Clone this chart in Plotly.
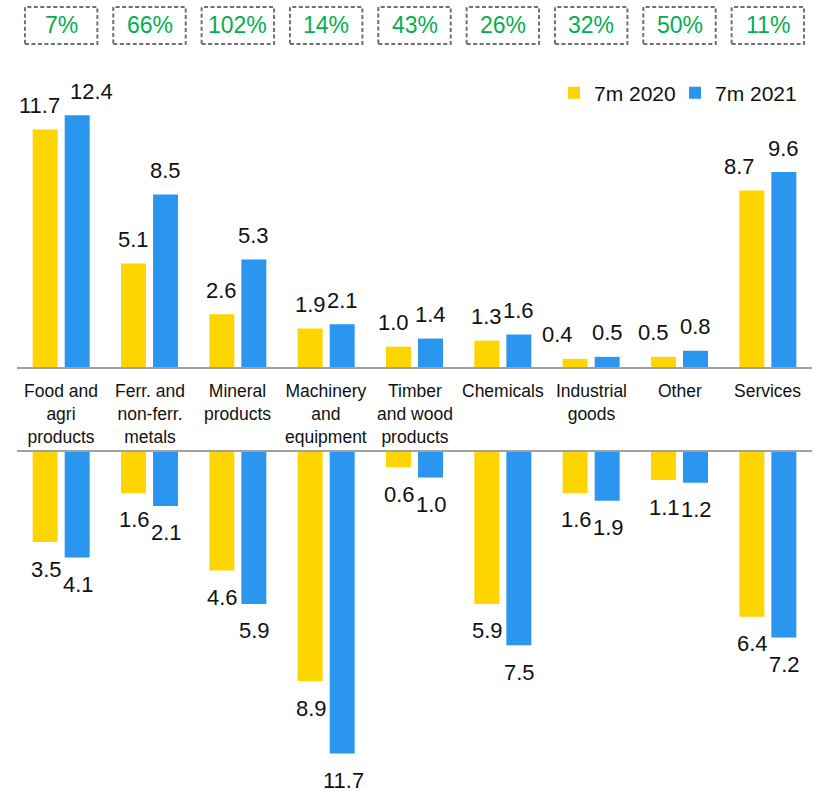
import plotly.graph_objects as go

# ---- data ----
categories = ["Food and<br>agri<br>products", "Ferr. and<br>non-ferr.<br>metals", "Mineral<br>products",
              "Machinery<br>and<br>equipment", "Timber<br>and wood<br>products", "Chemicals",
              "Industrial<br>goods", "Other", "Services"]
exports_2020 = [11.7, 5.1, 2.6, 1.9, 1.0, 1.3, 0.4, 0.5, 8.7]
exports_2021 = [12.4, 8.5, 5.3, 2.1, 1.4, 1.6, 0.5, 0.8, 9.6]
imports_2020 = [3.5, 1.6, 4.6, 8.9, 0.6, 5.9, 1.6, 1.1, 6.4]
imports_2021 = [4.1, 2.1, 5.9, 11.7, 1.0, 7.5, 1.9, 1.2, 7.2]
growth_labels = ["7%", "66%", "102%", "14%", "43%", "26%", "32%", "50%", "11%"]
series_names = ["7m 2020", "7m 2021"]

# ---- style ----
W, H = 819, 790
YELLOW = "#FFD500"
BLUE = "#2A96EF"
GREEN = "#00B050"
FONT = "Arial, Liberation Sans, sans-serif"
cat_ids = list(range(len(categories)))

# pixel geometry
x_left, x_right = 17, 812
base_up, base_low = 367, 451.7
px_per_up, px_per_low = 20.3, 25.8
# small horizontal nudges of upper value labels (px), per series
nudge_up_2020 = [-6, 0, 0, 0, -5, 0, -18, -10, -12]
nudge_up_2021 = [14, 0, 0, 0, 0, 0, 0, 0, 0]

fig = go.Figure()
fig.add_trace(go.Bar(x=cat_ids, y=exports_2020, name=series_names[0], marker_color=YELLOW,
                     xaxis="x", yaxis="y", legendgroup="a"))
fig.add_trace(go.Bar(x=cat_ids, y=exports_2021, name=series_names[1], marker_color=BLUE,
                     xaxis="x", yaxis="y", legendgroup="b"))
fig.add_trace(go.Bar(x=cat_ids, y=[-v for v in imports_2020], name=series_names[0], marker_color=YELLOW,
                     xaxis="x2", yaxis="y2", legendgroup="a", showlegend=False))
fig.add_trace(go.Bar(x=cat_ids, y=[-v for v in imports_2021], name=series_names[1], marker_color=BLUE,
                     xaxis="x2", yaxis="y2", legendgroup="b", showlegend=False))
fig.update_traces(marker_line_width=0, hoverinfo="skip")

annotations = []
slot = 16  # half distance between the two bars of a group, px
for i in cat_ids:
    for v, sh, ref in [(exports_2020[i], -slot + nudge_up_2020[i], "up"),
                       (exports_2021[i], slot + nudge_up_2021[i], "up"),
                       (-imports_2020[i], -slot + 1, "low"),
                       (-imports_2021[i], slot + 1, "low")]:
        annotations.append(dict(
            x=i, y=v, xref="x" if ref == "up" else "x2", yref="y" if ref == "up" else "y2",
            text=f"{abs(v):.1f}", showarrow=False, xshift=sh,
            yshift=24 if ref == "up" else -27, yanchor="middle",
            font=dict(size=22, color="#111111", family=FONT)))
    # category labels
    annotations.append(dict(x=i, y=(H - 378.5) / H, xref="x", yref="paper", text=categories[i],
                            showarrow=False, yanchor="top", align="center",
                            font=dict(size=17.5, color="#111111", family=FONT)))
    # growth labels
    annotations.append(dict(x=i, y=(H - 25.5) / H, xref="x3", yref="paper", text=growth_labels[i],
                            showarrow=False, yanchor="middle",
                            font=dict(size=23, color=GREEN, family=FONT)))

shapes = []
for i in cat_ids:
    shapes.append(dict(type="rect", xref="x3", yref="paper", x0=i - 0.41, x1=i + 0.41,
                       y0=(H - 44) / H, y1=(H - 7) / H,
                       line=dict(color="#707070", width=2, dash="4px,2.5px"),
                       fillcolor="rgba(0,0,0,0)"))

fig.update_layout(
    width=W, height=H,
    margin=dict(l=0, r=0, t=0, b=0, autoexpand=False),
    paper_bgcolor="white", plot_bgcolor="white",
    barmode="group", bargap=0.275, bargroupgap=0.22,
    font=dict(family=FONT, color="#111111"),
    showlegend=True,
    legend=dict(orientation="h", x=554 / W, y=(H - 93) / H, xanchor="left", yanchor="middle",
                font=dict(size=21, family=FONT, color="#111111"), bgcolor="rgba(0,0,0,0)",
                traceorder="normal", entrywidth=76, entrywidthmode="pixels", itemwidth=30),
    xaxis=dict(domain=[x_left / W, x_right / W], range=[-0.5, 8.5], anchor="y",
               showticklabels=False, showgrid=False, zeroline=False, ticks="",
               showline=True, linecolor="#A0A0A0", linewidth=2),
    yaxis=dict(domain=[(H - base_up) / H, 1.0], range=[0, base_up / px_per_up], anchor="x",
               visible=False),
    xaxis2=dict(domain=[x_left / W, x_right / W], range=[-0.5, 8.5], anchor="y2", side="top",
                showticklabels=False, showgrid=False, zeroline=False, ticks="",
                showline=True, linecolor="#A0A0A0", linewidth=2),
    yaxis2=dict(domain=[0, (H - base_low) / H], range=[-(H - base_low) / px_per_low, 0], anchor="x2",
                visible=False),
    xaxis3=dict(domain=[9.85 / W, 813.6 / W], range=[-0.5, 8.5], anchor="y", overlaying="x",
                visible=False),
    annotations=annotations,
    shapes=shapes,
)

fig.write_html("out.html")
